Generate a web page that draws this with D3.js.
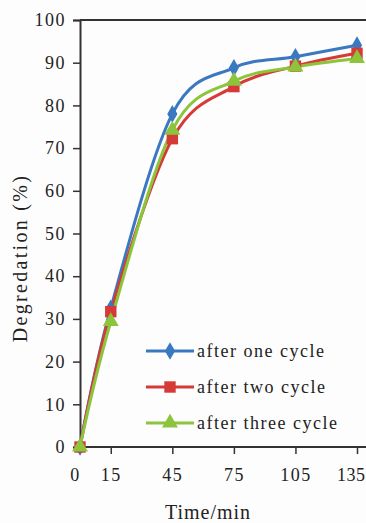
<!DOCTYPE html>
<html>
<head>
<meta charset="utf-8">
<script src="https://cdn.jsdelivr.net/npm/d3@7"></script>
<style>
  html, body { margin: 0; padding: 0; background: #fdfdfd; }
  svg { display: block; }
  text { font-family: "Liberation Serif", "DejaVu Serif", serif; fill: #222; }
</style>
</head>
<body>
<svg id="chart" width="366" height="523"></svg>
<script>
// Sampling times (min)
const times = [0, 15, 45, 75, 105, 135];
// Degradation (%) after each reuse cycle
const afterOne   = [0, 32.5, 78.0, 88.8, 91.4, 94.1];
const afterTwo   = [0, 31.7, 72.2, 84.4, 89.2, 92.2];
const afterThree = [0, 29.4, 74.2, 85.7, 89.0, 91.0];
const seriesNames = ["after one cycle", "after two cycle", "after three cycle"];
const yTicks = [0, 10, 20, 30, 40, 50, 60, 70, 80, 90, 100];

const series = [
  { name: seriesNames[0], values: afterOne,   color: "#3a78c0", marker: "diamond" },
  { name: seriesNames[1], values: afterTwo,   color: "#d63a36", marker: "square" },
  { name: seriesNames[2], values: afterThree, color: "#8cc43c", marker: "triangle" }
];

const svg = d3.select("#chart");
const plotLeft = 80, plotTop = 20, plotBottom = 447;
const x = d3.scaleLinear().domain([0, 135]).range([plotLeft, 357]);
const y = d3.scaleLinear().domain([0, 100]).range([plotBottom, plotTop]);

// Plot frame top edge
svg.append("line")
  .attr("x1", plotLeft).attr("x2", 366).attr("y1", plotTop).attr("y2", plotTop)
  .attr("stroke", "#333").attr("stroke-width", 2);

// Y axis
const yAxis = svg.append("g")
  .attr("transform", `translate(${plotLeft},0)`)
  .call(d3.axisLeft(y).tickValues(yTicks).tickSize(7).tickPadding(7));
yAxis.select(".domain").attr("stroke", "#333").attr("stroke-width", 2);
yAxis.selectAll(".tick line").attr("stroke", "#333").attr("stroke-width", 1.5);
yAxis.selectAll("text").attr("font-size", 18).attr("fill", "#222")
  .attr("letter-spacing", 1.5)
  .attr("font-family", "Liberation Serif, serif");

// X axis
const xAxis = svg.append("g")
  .attr("transform", `translate(0,${plotBottom})`)
  .call(d3.axisBottom(x).tickValues(times).tickSize(7).tickPadding(14));
xAxis.select(".domain").attr("d", `M${plotLeft},0H366`).attr("stroke", "#333").attr("stroke-width", 2);
xAxis.selectAll(".tick line").attr("stroke", "#333").attr("stroke-width", 1.5);
xAxis.selectAll("text").attr("font-size", 18).attr("fill", "#222")
  .attr("letter-spacing", 1.5)
  .attr("font-family", "Liberation Serif, serif");
xAxis.selectAll(".tick").filter(d => d === 0).select("line").remove();
xAxis.selectAll(".tick").filter(d => d === 0).select("text").attr("dx", -5);
// last label sits against the right edge: tighten it so it stays inside
xAxis.selectAll(".tick").filter(d => d === 135).select("text")
  .attr("letter-spacing", 0.5).attr("text-anchor", "end").attr("dx", 8);

// Axis titles
svg.append("text")
  .attr("x", 208).attr("y", 519)
  .attr("text-anchor", "middle").attr("font-size", 20)
  .attr("letter-spacing", 1)
  .text("Time/min");
svg.append("text")
  .attr("transform", "translate(27,258) rotate(-90)")
  .attr("text-anchor", "middle").attr("font-size", 20)
  .attr("letter-spacing", 2.3)
  .text("Degredation (%)");

const line = d3.line()
  .x((d, i) => x(times[i]))
  .y(d => y(d))
  .curve(d3.curveCardinal.tension(0));

const markerPath = {
  diamond: d3.symbol().type(d3.symbolDiamond).size(90),
  square: d3.symbol().type(d3.symbolSquare).size(130),
  triangle: d3.symbol().type(d3.symbolTriangle).size(110)
};

const plot = svg.append("g");
series.forEach(s => {
  plot.append("path")
    .datum(s.values)
    .attr("fill", "none")
    .attr("stroke", s.color)
    .attr("stroke-width", 3)
    .attr("d", line);
});
// markers drawn above all lines
series.forEach(s => {
  plot.selectAll(null)
    .data(s.values)
    .join("path")
    .attr("transform", (d, i) => `translate(${x(times[i])},${y(d)})`)
    .attr("d", markerPath[s.marker]())
    .attr("fill", s.color);
});

// Legend
const legend = svg.append("g");
const legendY = [351, 387, 423];
series.forEach((s, i) => {
  const g = legend.append("g").attr("transform", `translate(0,${legendY[i]})`);
  g.append("line").attr("x1", 146).attr("x2", 194).attr("y1", 0).attr("y2", 0)
    .attr("stroke", s.color).attr("stroke-width", 3);
  g.append("path").attr("transform", "translate(170,0)")
    .attr("d", markerPath[s.marker]()).attr("fill", s.color);
  g.append("text").attr("x", 197).attr("y", 6).attr("font-size", 18)
    .attr("letter-spacing", 1.5)
    .text(s.name);
});
</script>
</body>
</html>
